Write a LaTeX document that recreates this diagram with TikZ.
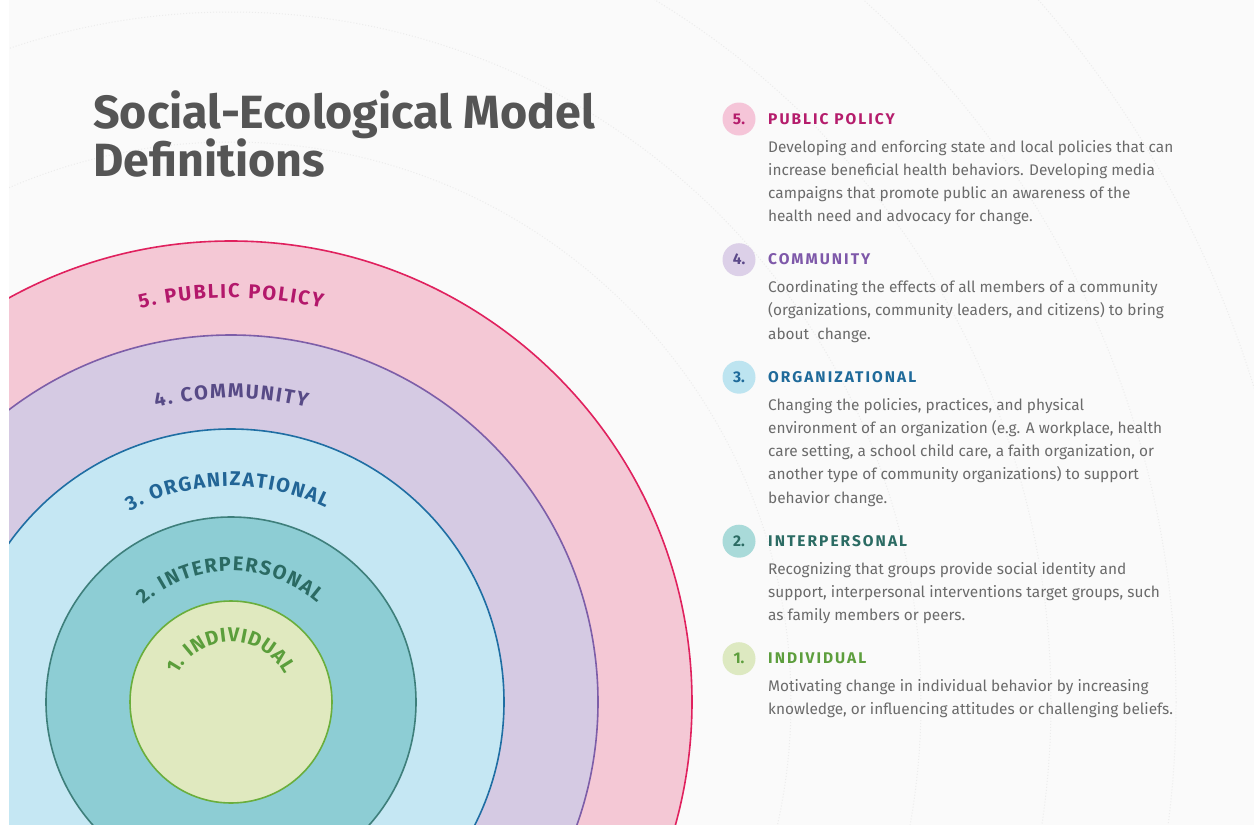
\documentclass[tikz,border=0pt]{standalone}
\usepackage{fontspec}
\setmainfont{Fira Sans}
\newfontfamily\hdrfont[LetterSpace=13]{Fira Sans}
\usetikzlibrary{decorations.text}
\definecolor{bgc}{HTML}{FAFAFA}
\definecolor{dotc}{HTML}{ECECEC}
\definecolor{rfA}{HTML}{F4C8D5}\definecolor{rlA}{HTML}{E0215E}\definecolor{rtA}{HTML}{B3186B}
\definecolor{rfB}{HTML}{D5CAE3}\definecolor{rlB}{HTML}{7D5EA8}\definecolor{rtB}{HTML}{574A86}
\definecolor{rfC}{HTML}{C5E7F3}\definecolor{rlC}{HTML}{1F6EA3}\definecolor{rtC}{HTML}{226596}
\definecolor{rfD}{HTML}{8DCDD4}\definecolor{rlD}{HTML}{3E7F7B}\definecolor{rtD}{HTML}{2B6A63}
\definecolor{rfE}{HTML}{E0E9BF}\definecolor{rlE}{HTML}{6AAE3C}\definecolor{rtE}{HTML}{5B9E3B}
\definecolor{hA}{HTML}{B51D6C}\definecolor{hB}{HTML}{7E58A9}\definecolor{hC}{HTML}{1F6A9A}
\definecolor{hD}{HTML}{2B6B63}\definecolor{hE}{HTML}{5D9E3D}
\definecolor{nB}{HTML}{5C4A8A}
\definecolor{dA}{HTML}{F5C5D8}\definecolor{dB}{HTML}{DCD0E8}\definecolor{dC}{HTML}{BDE4F0}
\definecolor{dD}{HTML}{A9DAD9}\definecolor{dE}{HTML}{DDE9C1}
\definecolor{bodyc}{HTML}{6B6B6B}
\definecolor{titlec}{HTML}{555555}
\newcommand\lblfont{\bfseries\fontsize{20}{20}\selectfont}
\tikzset{
  ring/.style={line width=1.6pt},
  disc/.style={circle, minimum size=33pt, inner sep=0pt, font=\bfseries\fontsize{15.5}{15.5}\selectfont},
  hdr/.style={anchor=base west, inner sep=0pt, font=\hdrfont\bfseries\fontsize{15.5}{15.5}\selectfont},
  body/.style={anchor=base west, inner sep=0pt, text=bodyc, font=\fontsize{15.4}{23.3}\selectfont},
  ttl/.style={anchor=base west, inner sep=0pt, text=titlec, font=\bfseries\fontsize{46.6}{48}\selectfont},
  arclabel/.style={decorate, decoration={text along path, text align={fit to path}, text color=#1}}
}
\begin{document}
\begin{tikzpicture}[x=1pt,y=1pt]
\useasboundingbox (0,0) rectangle (1254,-825);
\fill[white] (0,0) rectangle (1254,-825);
\fill[bgc] (9,0) rectangle (1254,-825);
% faint dotted background circles
\begin{scope}
\clip (9,0) rectangle (1254,-825);
\foreach \r in {560,690,820,945,1070}
  \draw[dotc, line width=1pt, dotted] (231,-702) circle[radius=\r];
\end{scope}
% rings
\begin{scope}
\clip (9,0) rectangle (1254,-825);
\draw[ring, draw=rlA, fill=rfA] (231,-702) circle[radius=461];
\draw[ring, draw=rlB, fill=rfB] (231,-702) circle[radius=367];
\draw[ring, draw=rlC, fill=rfC] (231,-702) circle[radius=273];
\draw[ring, draw=rlD, fill=rfD] (231,-702) circle[radius=185];
\draw[ring, draw=rlE, fill=rfE] (231,-702) circle[radius=101];
\end{scope}
% curved labels
\begin{scope}[shift={(231,-702)}]
\path[arclabel=rtA, decoration={text={|\lblfont|5. PUBLIC POLICY}}]
  (103:404) arc[start angle=103, end angle=77, radius=404];
\path[arclabel=rtB, decoration={text={|\lblfont|4. COMMUNITY}}]
  (104.3:304) arc[start angle=104.3, end angle=75.6, radius=304];
\path[arclabel=rtC, decoration={text={|\lblfont|3. ORGANIZATIONAL}}]
  (118:216) arc[start angle=118, end angle=64, radius=216];
\path[arclabel=rtD, decoration={text={|\lblfont|2. INTERPERSONAL}}]
  (132:131) arc[start angle=132, end angle=49, radius=131];
\path[arclabel=rtE, decoration={text={|\lblfont|1. INDIVIDUAL}}]
  (153:60) arc[start angle=153, end angle=27, radius=60];
\end{scope}
% title
\node[ttl] (t1) at (93,-128) {Social-Ecological Model};
\node[ttl] (t2) at (93,-176) {Definitions};
% right column
\node[disc, fill=dA, text=hA] (n5) at (739,-119) {5.};
\node[hdr, text=hA] (h5) at (768,-124) {PUBLIC POLICY};
\node[body] (b5) at (768,-152) {\begin{tabular}[t]{@{}l@{}}
Developing and enforcing state and local policies that can\\
increase beneficial health behaviors. Developing media\\
campaigns that promote public an awareness of the\\
health need and advocacy for change.\end{tabular}};

\node[disc, fill=dB, text=nB] (n4) at (739,-259.7) {4.};
\node[hdr, text=hB] (h4) at (768,-264.5) {COMMUNITY};
\node[body] (b4) at (768,-292.5) {\begin{tabular}[t]{@{}l@{}}
Coordinating the effects of all members of a community\\
(organizations, community leaders, and citizens) to bring\\
about~ change.\end{tabular}};

\node[disc, fill=dC, text=hC] (n3) at (739,-377.2) {3.};
\node[hdr, text=hC] (h3) at (768,-382) {ORGANIZATIONAL};
\node[body] (b3) at (768,-410) {\begin{tabular}[t]{@{}l@{}}
Changing the policies, practices, and physical\\
environment of an organization (e.g. A workplace, health\\
care setting, a school child care, a faith organization, or\\
another type of community organizations) to support\\
behavior change.\end{tabular}};

\node[disc, fill=dD, text=hD] (n2) at (739,-541.2) {2.};
\node[hdr, text=hD] (h2) at (768,-546) {INTERPERSONAL};
\node[body] (b2) at (768,-574) {\begin{tabular}[t]{@{}l@{}}
Recognizing that groups provide social identity and\\
support, interpersonal interventions target groups, such\\
as family members or peers.\end{tabular}};

\node[disc, fill=dE, text=hE] (n1) at (739,-658.7) {1.};
\node[hdr, text=hE] (h1) at (768,-663.5) {INDIVIDUAL};
\node[body] (b1) at (768,-691.5) {\begin{tabular}[t]{@{}l@{}}
Motivating change in individual behavior by increasing\\
knowledge, or influencing attitudes or challenging beliefs.\end{tabular}};
\end{tikzpicture}
\end{document}
